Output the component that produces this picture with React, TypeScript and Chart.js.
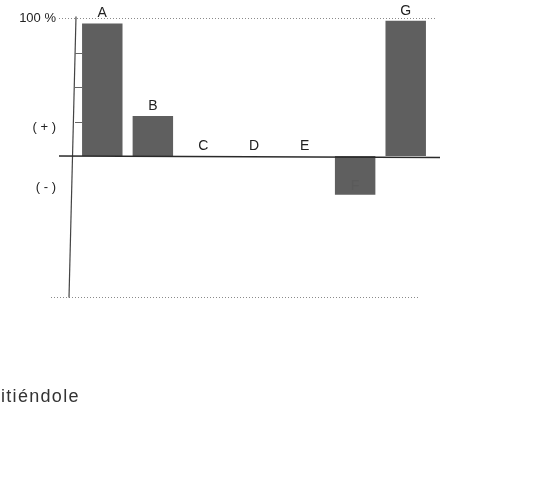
import React, { useEffect, useRef } from 'react';
import { Chart, registerables } from 'chart.js';

Chart.register(...registerables);

const CATEGORIES = ['A', 'B', 'C', 'D', 'E', 'F', 'G'];
const VALUES = [96, 29, 0, 0, 0, -28, 98];
const Y_MIN = -102;
const Y_MAX = 100;
const Y_LABEL_VALUES = [100, 21, -23];
const Y_LABEL_TEXTS = ['100 %', '( + )', '( - )'];
const MINOR_TICK_VALUES = [25, 50, 75];
const FOOT_TEXT = 'itiéndole';

const FONT = '"Liberation Sans", Arial, Helvetica, sans-serif';

const decor = {
  id: 'decor',
  beforeDatasetsDraw(chart: any) {
    const { ctx, chartArea: ca, scales } = chart;
    const y = scales.y;
    const line = (x1: number, y1: number, x2: number, y2: number) => {
      ctx.beginPath();
      ctx.moveTo(x1, y1);
      ctx.lineTo(x2, y2);
      ctx.stroke();
    };
    ctx.save();
    // dotted reference lines
    ctx.strokeStyle = '#8a8a8a';
    ctx.lineWidth = 1;
    ctx.setLineDash([1, 2]);
    const yTop = Math.round(y.getPixelForValue(Y_MAX)) + 0.5;
    const yBot = Math.round(y.getPixelForValue(Y_MIN)) + 0.5;
    line(ca.left - 18, yTop, ca.right + 6, yTop);
    line(ca.left - 26, yBot, ca.right - 13, yBot);
    ctx.setLineDash([]);
    // y axis line
    ctx.strokeStyle = '#444';
    ctx.lineWidth = 1.2;
    line(ca.left - 1, yTop - 2, ca.left - 8, yBot);
    // minor ticks
    ctx.lineWidth = 1;
    ctx.strokeStyle = '#666';
    MINOR_TICK_VALUES.forEach((v) => {
      const py = Math.round(y.getPixelForValue(v)) + 0.5;
      line(ca.left - 2, py, ca.left + 5, py);
    });
    ctx.restore();
  },
  afterDatasetsDraw(chart: any) {
    const { ctx, chartArea: ca, scales } = chart;
    const y = scales.y;
    ctx.save();
    // zero baseline
    const y0 = y.getPixelForValue(0);
    ctx.strokeStyle = '#2a2a2a';
    ctx.lineWidth = 1.5;
    ctx.beginPath();
    ctx.moveTo(ca.left - 18, y0);
    ctx.lineTo(ca.right + 9, y0 + 1.5);
    ctx.stroke();
    // bar labels
    ctx.font = '14px ' + FONT;
    ctx.textAlign = 'center';
    ctx.textBaseline = 'bottom';
    const meta = chart.getDatasetMeta(0);
    meta.data.forEach((bar: any, i: number) => {
      const v = VALUES[i];
      if (v >= 0) {
        ctx.fillStyle = '#222';
        ctx.fillText(CATEGORIES[i], bar.x, bar.y - 3);
      } else {
        ctx.fillStyle = '#5a5a5a';
        ctx.fillText(CATEGORIES[i], bar.x, bar.y - 2);
      }
    });
    ctx.restore();
  },
};

export default function App() {
  const ref = useRef<HTMLCanvasElement | null>(null);

  useEffect(() => {
    if (!ref.current) return;
    const chart = new Chart(ref.current, {
      type: 'bar',
      data: {
        labels: CATEGORIES,
        datasets: [
          {
            data: VALUES,
            backgroundColor: '#5f5f5f',
            borderWidth: 0,
            barPercentage: 0.8,
            categoryPercentage: 1.0,
          },
        ],
      },
      options: {
        responsive: false,
        animation: false,
        devicePixelRatio: 1,
        layout: { padding: { left: 0, right: 108, top: 18, bottom: 192 } },
        plugins: {
          legend: { display: false },
          tooltip: { enabled: false },
        },
        scales: {
          x: { type: 'category', display: false },
          y: {
            min: Y_MIN,
            max: Y_MAX,
            grid: { display: false, drawTicks: true, tickLength: 21 },
            border: { display: false },
            afterBuildTicks: (s: any) => {
              s.ticks = Y_LABEL_VALUES.map((v) => ({ value: v }));
            },
            afterFit: (s: any) => {
              s.width = 77;
            },
            ticks: {
              padding: 0,
              color: '#222',
              font: { size: 13, family: FONT },
              callback: (_v: any, i: number) => Y_LABEL_TEXTS[i],
            },
          },
        },
      },
      plugins: [decor],
    } as any);
    return () => chart.destroy();
  }, []);

  return (
    <div style={{ position: 'fixed', left: 0, top: 0, width: 539, height: 489, background: '#fff' }}>
      <canvas ref={ref} width={539} height={489} style={{ display: 'block' }} />
      <div
        style={{
          position: 'absolute',
          left: 1,
          top: 387,
          fontFamily: FONT,
          fontSize: 18,
          lineHeight: '18px',
          letterSpacing: '1.3px',
          color: '#333',
          whiteSpace: 'nowrap',
        }}
      >
        {FOOT_TEXT}
      </div>
    </div>
  );
}
